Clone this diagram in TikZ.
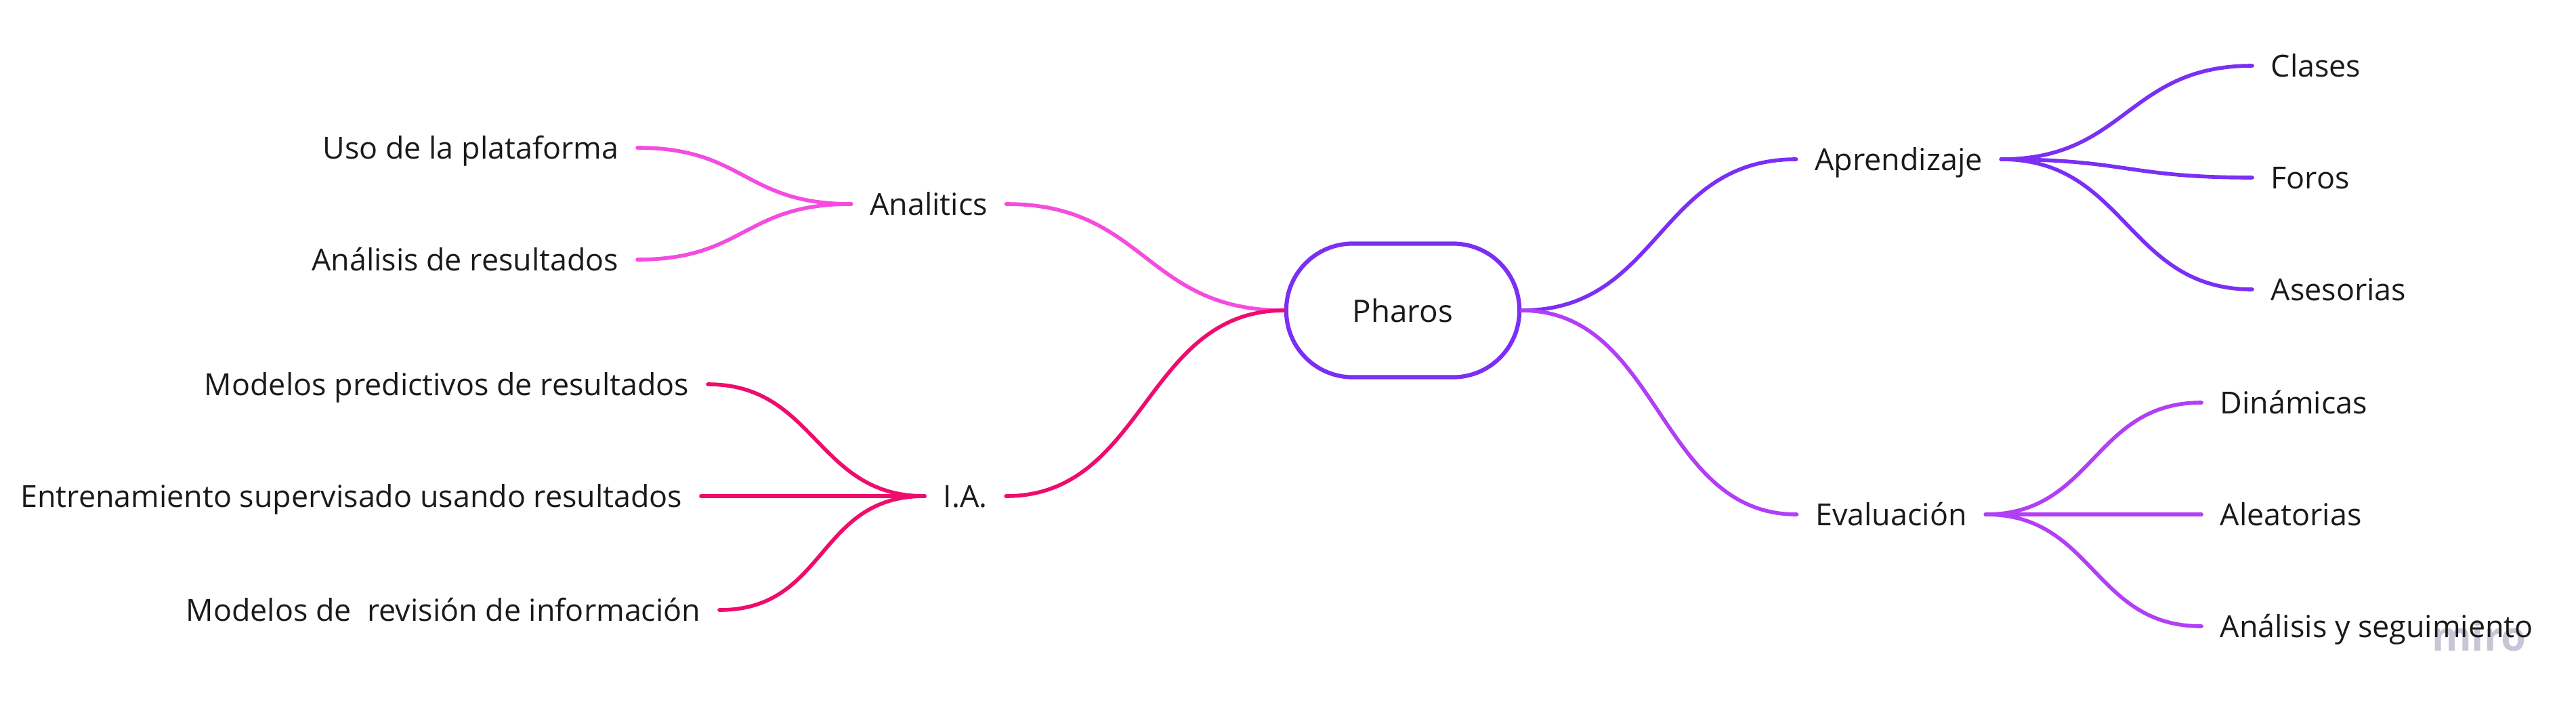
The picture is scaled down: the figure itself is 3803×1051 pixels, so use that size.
\documentclass[tikz,border=0pt]{standalone}
\usepackage{fontspec}
\setmainfont{Open Sans}
\definecolor{cApr}{HTML}{7B2FF5}
\definecolor{cEva}{HTML}{B23EF5}
\definecolor{cAna}{HTML}{F54CE0}
\definecolor{cIA}{HTML}{EE0C6C}
\definecolor{cMiro}{HTML}{C8C6D6}
\definecolor{cText}{HTML}{1A1A1A}
\tikzset{
  lbl/.style={inner xsep=0.27cm, inner ysep=0pt, text height=0.33cm, text depth=0pt,
    font=\fontsize{12.75pt}{15pt}\selectfont, text=cText},
  root/.style={draw=cApr, line width=1.75pt, rounded corners=0.98cm,
    minimum width=3.44cm, minimum height=1.97cm, inner sep=0pt,
    font=\fontsize{13pt}{15pt}\selectfont, text=cText},
  link/.style={line width=1.6pt, line cap=round},
}
\begin{document}
\begin{tikzpicture}[x=0.01cm, y=-0.01cm]
\useasboundingbox (0,0) rectangle (3803,1051);
% watermark
\node[text=cMiro, font=\fontsize{17pt}{19pt}\selectfont\bfseries, inner sep=0pt] (miro) at (3660,938) {miro};
% root
\node[root] (pharos) at (2071,458) {Pharos};
% hubs
\node[lbl] (apr) at (2803,235) {Aprendizaje};
\node[lbl] (eva) at (2792,759) {Evaluación};
\node[lbl] (ana) at (1371,301) {Analitics};
\node[lbl] (ia)  at (1425,732) {I.A.};
% right leaves
\node[lbl, anchor=west] (clases) at (3325,97)  {Clases};
\node[lbl, anchor=west] (foros)  at (3325,262) {Foros};
\node[lbl, anchor=west] (ases)   at (3325,427) {Asesorias};
\node[lbl, anchor=west] (din)    at (3250,594) {Dinámicas};
\node[lbl, anchor=west] (alea)   at (3250,759) {Aleatorias};
\node[lbl, anchor=west] (anseg)  at (3250,924) {Análisis y seguimiento};
% left leaves
\node[lbl, anchor=east] (uso)   at (941,218)  {Uso de la plataforma};
\node[lbl, anchor=east] (anres) at (941,383)  {Análisis de resultados};
\node[lbl, anchor=east] (mod1)  at (1045,567) {Modelos predictivos de resultados};
\node[lbl, anchor=east] (ent)   at (1035,732) {Entrenamiento supervisado usando resultados};
\node[lbl, anchor=east] (mod2)  at (1062,900) {Modelos de~ revisión de información};
% connectors: root to hubs
\draw[link, cApr] (pharos.east) .. controls +(205,0) and +(-205,0) .. (apr.west);
\draw[link, cEva] (pharos.east) .. controls +(205,0) and +(-205,0) .. (eva.west);
\draw[link, cAna] (ana.east) .. controls +(206,0) and +(-206,0) .. (pharos.west);
\draw[link, cIA]  (ia.east)  .. controls +(206,0) and +(-206,0) .. (pharos.west);
% Aprendizaje
\draw[link, cApr] (apr.east) .. controls +(185,0) and +(-185,0) .. (clases.west);
\draw[link, cApr] (apr.east) .. controls +(185,0) and +(-185,0) .. (foros.west);
\draw[link, cApr] (apr.east) .. controls +(185,0) and +(-185,0) .. (ases.west);
% Evaluacion
\draw[link, cEva] (eva.east) .. controls +(160,0) and +(-160,0) .. (din.west);
\draw[link, cEva] (eva.east) -- (alea.west);
\draw[link, cEva] (eva.east) .. controls +(160,0) and +(-160,0) .. (anseg.west);
% Analitics
\draw[link, cAna] (uso.east) .. controls +(159,0) and +(-159,0) .. (ana.west);
\draw[link, cAna] (anres.east) .. controls +(159,0) and +(-159,0) .. (ana.west);
% IA
\draw[link, cIA] (mod1.east) .. controls +(160,0) and +(-160,0) .. (ia.west);
\draw[link, cIA] (ent.east) -- (ia.west);
\draw[link, cIA] (mod2.east) .. controls +(160,0) and +(-160,0) .. (ia.west);
\end{tikzpicture}
\end{document}
